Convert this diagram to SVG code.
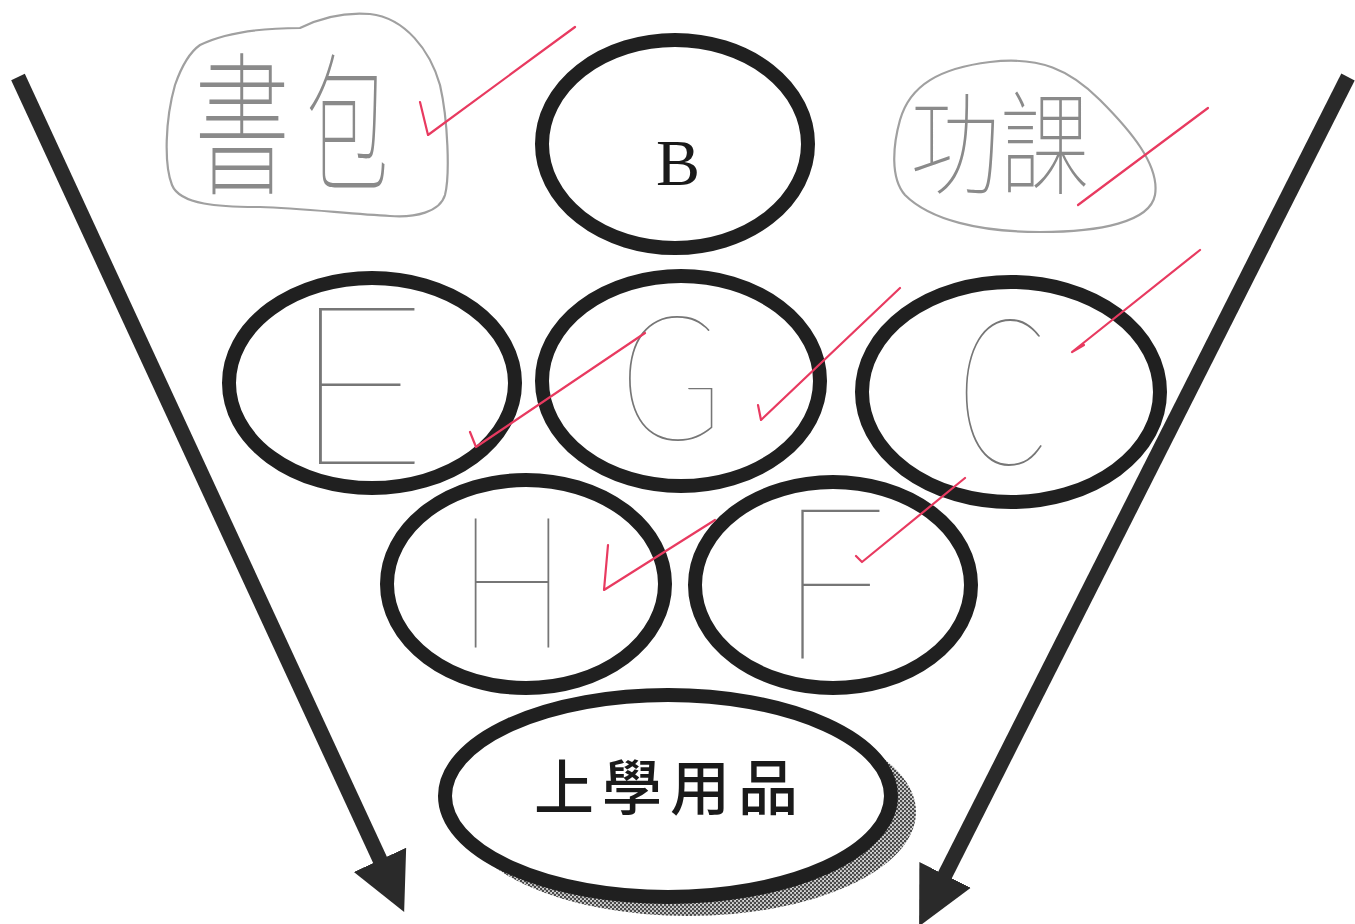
<svg xmlns="http://www.w3.org/2000/svg" width="1355" height="924" viewBox="0 0 1355 924">
<style>
.ring{fill:none;stroke:#202020;stroke-width:14}
.ring.filled{fill:#ffffff}
.pencil{fill:#767676;font-family:Lato,Inter,"Open Sans",sans-serif;font-weight:100}
.pcjk{fill:#8a8a8a;font-family:"Noto Sans CJK TC","Noto Sans CJK SC",sans-serif;font-weight:100}
.cloud{fill:none;stroke:#a0a0a0;stroke-width:2.2}
.tick{fill:none;stroke:#e83a60;stroke-width:2.2;stroke-linecap:round;stroke-linejoin:round}
.shaft{stroke:#2a2a2a;stroke-width:15;fill:none}
</style>
<defs>
<marker id="ah" markerUnits="userSpaceOnUse" markerWidth="60" markerHeight="60" viewBox="0 -25 50 50" refX="2" refY="0" orient="auto">
<path d="M0,-24 L48,0 L0,24 Z" fill="#2a2a2a"/>
</marker>
<pattern id="dots" width="4" height="4" patternUnits="userSpaceOnUse">
<rect width="4" height="4" fill="#d8d8d8"/>
<circle cx="1" cy="1" r="1.3" fill="#4a4a4a"/>
<circle cx="3" cy="3" r="1.3" fill="#4a4a4a"/>
</pattern>
</defs>
<rect width="1355" height="924" fill="#ffffff"/>

<g id="connectors">
<line class="shaft" x1="18" y1="77" x2="381" y2="862" marker-end="url(#ah)"/>
<line class="shaft" x1="1348" y1="77" x2="944" y2="877" marker-end="url(#ah)"/>
</g>

<g id="node-shubao">
<path class="cloud" d="M200,45 C230,30 270,28 300,28 C320,18 345,12 370,14 C405,18 430,50 440,85 C448,120 450,175 445,195 C440,212 415,218 390,216 C350,214 300,208 260,207 C220,207 180,205 172,185 C164,165 165,120 175,85 C182,65 190,52 200,45 Z"/>
<text class="pcjk" font-size="155" transform="translate(194,182) scale(0.62,1)">書</text>
<text class="pcjk" font-size="150" transform="translate(306,180) scale(0.55,1)">包</text>
</g>

<g id="node-gongke">
<path class="cloud" d="M900,120 C910,85 940,68 990,62 C1040,56 1070,70 1100,100 C1130,130 1160,165 1155,195 C1150,222 1100,232 1040,232 C980,232 930,220 905,195 C890,178 893,145 900,120 Z"/>
<text class="pcjk" font-size="112" transform="translate(910,186) scale(0.8,1)">功</text>
<text class="pcjk" font-size="112" transform="translate(1000,186) scale(0.8,1)">課</text>
</g>

<g id="node-B">
<ellipse class="ring" cx="675" cy="144" rx="133" ry="104"/>
<text x="678" y="185" font-family="'Liberation Serif',serif" font-size="66" text-anchor="middle" fill="#1a1a1a">B</text>
</g>

<g id="node-E">
<ellipse class="ring" cx="372" cy="383" rx="143" ry="105"/>
<text class="pencil" text-anchor="middle" font-size="222" transform="translate(360,464) scale(1.05,1)">E</text>
</g>

<g id="node-G">
<ellipse class="ring" cx="681" cy="381" rx="139" ry="105"/>
<text class="pencil" text-anchor="middle" font-size="174" transform="translate(671,440) scale(0.8,1)">G</text>
</g>

<g id="node-C">
<ellipse class="ring" cx="1011" cy="392" rx="149" ry="110"/>
<text class="pencil" text-anchor="middle" font-size="204" transform="translate(1002,464) scale(0.65,1)">C</text>
</g>

<g id="node-H">
<ellipse class="ring" cx="526" cy="584" rx="139" ry="104"/>
<text class="pencil" text-anchor="middle" font-size="185" transform="translate(512,648) scale(0.78,1)">H</text>
</g>

<g id="node-F">
<ellipse class="ring" cx="833" cy="585" rx="138" ry="103"/>
<text class="pencil" text-anchor="middle" font-size="212" transform="translate(833,658) scale(0.9,1)">F</text>
</g>

<g id="node-supplies">
<ellipse cx="688" cy="812" rx="228" ry="104" fill="url(#dots)"/>
<ellipse class="ring filled" cx="668" cy="796" rx="223" ry="101"/>
<text x="670" y="810" font-family="'Noto Sans CJK TC','Noto Sans CJK SC',sans-serif" font-weight="500" font-size="60" letter-spacing="8" text-anchor="middle" fill="#1a1a1a">上學用品</text>
</g>

<g id="ticks">
<path class="tick" d="M420,102 L428,135 L575,27"/>
<path class="tick" d="M1208,108 L1078,205 L1090,196"/>
<path class="tick" d="M1200,250 L1072,352 L1084,345"/>
<path class="tick" d="M470,432 L476,447 L645,333"/>
<path class="tick" d="M758,405 L761,420 L900,288"/>
<path class="tick" d="M608,545 L604,590 L715,520"/>
<path class="tick" d="M856,556 L862,562 L965,478"/>
</g>
</svg>
